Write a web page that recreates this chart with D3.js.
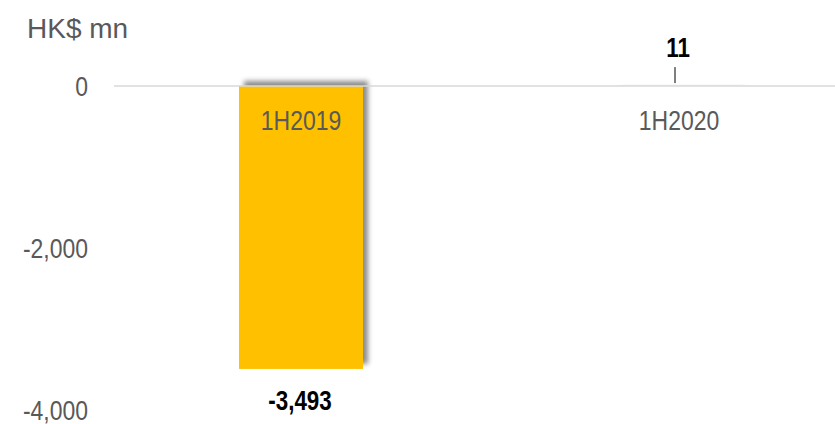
<!DOCTYPE html>
<html>
<head>
<meta charset="utf-8">
<script src="https://cdn.jsdelivr.net/npm/d3@7"></script>
<style>
  body { margin: 0; background: #fff; }
  text { font-family: "Liberation Sans", Arial, sans-serif; }
</style>
</head>
<body>
<div id="chart"></div>
<script>
// data
const categories = ['1H2019', '1H2020'];
const values = [-3493, 11];
const valueLabels = ['-3,493', '11'];
const yTicks = [0, -2000, -4000];
const unitLabel = 'HK$ mn';

const width = 835, height = 424;
// no Arial Narrow here, so squeeze the normal sans horizontally
const narrow = 0.82;

let svg = d3.select('#chart').append('svg')
  .attr('width', width)
  .attr('height', height);

// drop shadow like the excel one (to the right and a bit up)
let filter = svg.append('defs').append('filter')
  .attr('id', 'shadow')
  .attr('x', '-20%').attr('y', '-50%')
  .attr('width', '140%').attr('height', '200%');
filter.append('feDropShadow')
  .attr('dx', 5)
  .attr('dy', -5)
  .attr('stdDeviation', 2.5)
  .attr('flood-color', '#000')
  .attr('flood-opacity', 0.45);

let x = d3.scaleBand()
  .domain(categories)
  .range([112, 868])
  .paddingInner(0.672)
  .paddingOuter(0.336);

let y = d3.scaleLinear()
  .domain([-4000, 0])
  .range([410, 86]);

let fmt = v => d3.format(',')(v).replace('−', '-');

// unit title
svg.append('text')
  .attr('x', 27)
  .attr('y', 38)
  .text(unitLabel)
  .attr('font-size', 28)
  .attr('fill', '#595959');

// y tick labels
svg.append('g').selectAll('text')
  .data(yTicks)
  .enter().append('text')
  .attr('transform', d => `translate(88,${y(d)}) scale(${narrow},1)`)
  .attr('dy', '0.35em')
  .attr('text-anchor', 'end')
  .attr('font-size', 28)
  .attr('fill', '#595959')
  .text(d => fmt(d));

// bars
svg.append('g').selectAll('rect')
  .data(values)
  .enter().append('rect')
  .attr('x', (d, i) => x(categories[i]))
  .attr('y', d => y(Math.max(0, d)))
  .attr('width', x.bandwidth())
  .attr('height', d => Math.max(1, Math.abs(y(d) - y(0))))
  .attr('fill', (d, i) => i === 0 ? '#FFC000' : '#FFF3CC')
  .attr('filter', 'url(#shadow)');

// zero line
svg.append('line')
  .attr('x1', 114)
  .attr('x2', 835)
  .attr('y1', y(0))
  .attr('y2', y(0))
  .attr('stroke', '#d9d9d9')
  .attr('stroke-width', 1.5);

// category labels sit just under the zero line
svg.append('g').selectAll('text')
  .data(categories)
  .enter().append('text')
  .attr('transform', d => `translate(${x(d) + x.bandwidth() / 2},130) scale(${narrow},1)`)
  .attr('text-anchor', 'middle')
  .attr('font-size', 28)
  .attr('fill', '#595959')
  .text(d => d);

// value labels
svg.append('g').selectAll('text')
  .data(values)
  .enter().append('text')
  .attr('transform', (d, i) => {
    let cx = x(categories[i]) + x.bandwidth() / 2 - 1;
    let cy = d < 0 ? y(d) + 41 : y(d) - 28;
    return `translate(${cx},${cy}) scale(0.8,1)`;
  })
  .attr('text-anchor', 'middle')
  .attr('font-size', 28)
  .attr('font-weight', 'bold')
  .attr('fill', '#000')
  .text((d, i) => valueLabels[i]);

// leader line for the small value
svg.append('line')
  .attr('x1', x(categories[1]) + x.bandwidth() / 2 - 4)
  .attr('x2', x(categories[1]) + x.bandwidth() / 2 - 4)
  .attr('y1', y(values[1]) - 18)
  .attr('y2', y(values[1]) - 2)
  .attr('stroke', '#000')
  .attr('stroke-width', 1);
</script>
</body>
</html>
